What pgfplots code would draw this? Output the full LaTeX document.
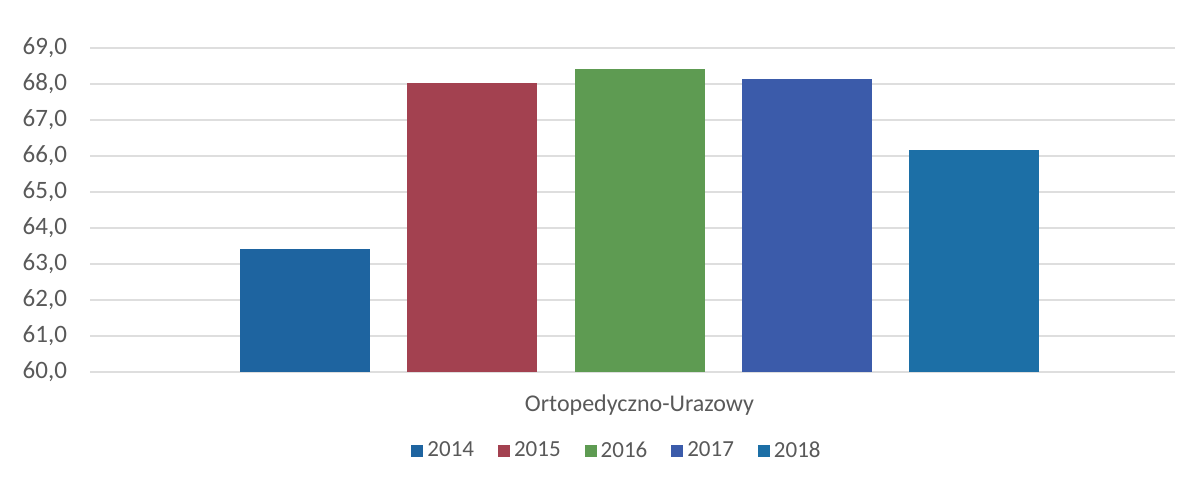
\documentclass[border=0pt]{standalone}
\usepackage{pgfplots}
\pgfplotsset{compat=1.18}
\usepackage{fontspec}
\setmainfont{Carlito}
\definecolor{c14}{HTML}{1E64A0}
\definecolor{c15}{HTML}{A34150}
\definecolor{c16}{HTML}{5E9B52}
\definecolor{c17}{HTML}{3B5BAA}
\definecolor{c18}{HTML}{1C6FA6}
\definecolor{txt}{HTML}{595959}
\begin{document}
\begin{tikzpicture}
\path[use as bounding box] (-45pt,-54.5pt) rectangle (555pt,186pt);
\begin{axis}[
    at={(0,0)}, anchor=south west,
    scale only axis,
    width=542.5pt, height=162pt,
    ymin=60, ymax=69, ytick={60,61,...,69},
    xmin=-0.2855, xmax=6.2018,
    xtick={3}, xticklabels={Ortopedyczno-Urazowy},
    ymajorgrids,
    grid style={draw=black!13, line width=0.6pt},
    axis line style={draw=none},
    major tick length=0pt,
    tick label style={font=\fontsize{12.5}{14}\selectfont, text=txt},
    yticklabel style={xshift=-8pt},
    xticklabel style={yshift=-8pt, font=\fontsize{12}{14}\selectfont},
    /pgf/number format/.cd, fixed, fixed zerofill, precision=1, use comma,
    assume math mode=true,
    /pgfplots/.cd,
    ybar, bar width=65pt, bar shift=0pt,
    legend columns=5,
    legend style={draw=none, at={(264pt,-39.5pt)}, anchor=center,
        font=\fontsize{11.5}{13}\selectfont, text=txt,
        /tikz/every even column/.append style={column sep=10pt}},
    legend image code/.code={\fill[#1] (3pt,-3pt) rectangle (9pt,3pt);},
]
\addplot[fill=c14, draw=none] coordinates {(1,63.42)};
\addplot[fill=c15, draw=none] coordinates {(2,68.02)};
\addplot[fill=c16, draw=none] coordinates {(3,68.42)};
\addplot[fill=c17, draw=none] coordinates {(4,68.14)};
\addplot[fill=c18, draw=none] coordinates {(5,66.18)};
\legend{2014,2015,2016,2017,2018}
\end{axis}
\end{tikzpicture}
\end{document}
